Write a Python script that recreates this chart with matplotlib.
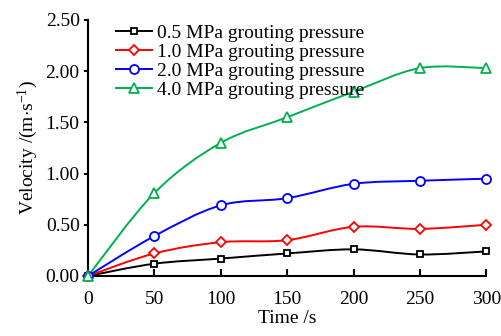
import matplotlib
matplotlib.use("Agg")
import matplotlib.pyplot as plt
import numpy as np
from matplotlib.path import Path
from matplotlib.patches import PathPatch
from matplotlib.lines import Line2D

plt.rcParams['font.family'] = ['Liberation Serif', 'DejaVu Serif']
plt.rcParams['mathtext.fontset'] = 'custom'
plt.rcParams['mathtext.rm'] = 'Liberation Serif'
plt.rcParams['mathtext.it'] = 'Liberation Serif:italic'

time_s = [0, 50, 100, 150, 200, 250, 300]
v_05 = [0.00, 0.12, 0.17, 0.22, 0.26, 0.21, 0.24]
v_10 = [0.00, 0.22, 0.33, 0.35, 0.48, 0.46, 0.50]
v_20 = [0.00, 0.39, 0.69, 0.76, 0.90, 0.93, 0.95]
v_40 = [0.00, 0.81, 1.30, 1.55, 1.80, 2.03, 2.03]
labels = ["0.5 MPa grouting pressure", "1.0 MPa grouting pressure",
          "2.0 MPa grouting pressure", "4.0 MPa grouting pressure"]
colors = ["#000000", "#FF0000", "#0000FF", "#00B050"]
markers = ["s", "D", "o", "^"]
msizes = [5, 5, 6.5, 6.5]
series = [v_05, v_10, v_20, v_40]

fig = plt.figure(figsize=(5.01, 3.36), dpi=100)
ax = fig.add_axes([0.1756, 0.1786, 0.795, 0.7619])


def smooth_path(x, y):
    x = np.asarray(x, float)
    y = np.asarray(y, float)
    n = len(x)
    verts = [(x[0], y[0])]
    codes = [Path.MOVETO]
    for i in range(n - 1):
        i0 = max(i - 1, 0)
        i3 = min(i + 2, n - 1)
        c1 = (x[i] + (x[i + 1] - x[i0]) / 6, y[i] + (y[i + 1] - y[i0]) / 6)
        c2 = (x[i + 1] - (x[i3] - x[i]) / 6, y[i + 1] - (y[i3] - y[i]) / 6)
        verts += [c1, c2, (x[i + 1], y[i + 1])]
        codes += [Path.CURVE4] * 3
    return Path(verts, codes)


handles = []
for vals, c, m, ms, lab in zip(series, colors, markers, msizes, labels):
    patch = PathPatch(smooth_path(time_s, vals), facecolor='none', edgecolor=c,
                      lw=1.4, zorder=2)
    ax.add_patch(patch)
    ax.plot(time_s, vals, linestyle='none', marker=m, ms=ms, mfc='white',
            mec=c, mew=1.3, zorder=3, clip_on=False)
    handles.append(Line2D([], [], color=c, lw=1.4, marker=m, ms=ms, mfc='white',
                          mec=c, mew=1.3, label=lab))

ax.set_xlim(0, 300)
ax.set_ylim(0, 2.5)
ax.set_xticks(time_s)
ax.set_yticks([0, 0.5, 1.0, 1.5, 2.0, 2.5])
ax.set_yticklabels(["0.00", "0.50", "1.00", "1.50", "2.00", "2.50"])
for s in ['top', 'right']:
    ax.spines[s].set_visible(False)
for s in ['left', 'bottom']:
    ax.spines[s].set_linewidth(1.5)
ax.tick_params(axis='x', direction='in', length=5, width=1.5, labelsize=14, pad=10.5)
ax.tick_params(axis='y', direction='out', length=3, width=1.5, labelsize=14, pad=3)

ax.set_xlabel("Time /s", fontsize=14, labelpad=2)
ax.set_ylabel(r"Velocity /(m$\cdot$s$^{-1}$)", fontsize=14, labelpad=4)

ax.legend(handles=handles, loc='upper left', bbox_to_anchor=(0.05, 1.015),
          frameon=False, fontsize=14, handlelength=1.85, handletextpad=0.3,
          labelspacing=0.08, borderaxespad=0)

fig.savefig("out.png", dpi=100)
